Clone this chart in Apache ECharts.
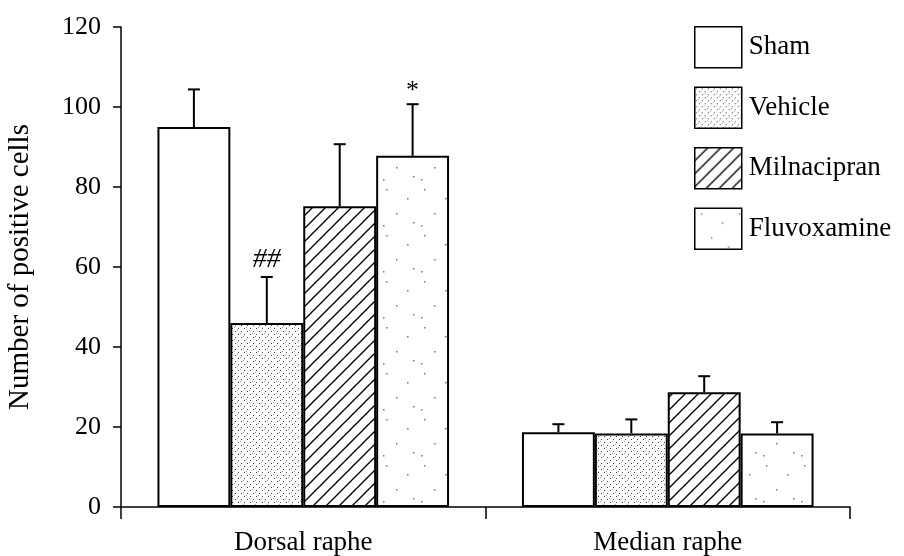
<!DOCTYPE html>
<html>
<head>
<meta charset="utf-8">
<script src="https://cdn.jsdelivr.net/npm/echarts@6/dist/echarts.min.js"></script>
<style>
  html, body { margin: 0; padding: 0; background: #fff; }
  #chart { width: 904px; height: 556px; }
</style>
</head>
<body>
<div id="chart"></div>
<script>
// Brain regions on the category axis
const categories = ['Dorsal raphe', 'Median raphe'];
const seriesNames = ['Sham', 'Vehicle', 'Milnacipran', 'Fluvoxamine'];

// Mean number of positive cells per group
const shamValues = [95, 18.7];
const vehicleValues = [46, 18.4];
const milnacipranValues = [75.2, 28.7];
const fluvoxamineValues = [87.8, 18.4];

// Upper error (SEM)
const shamErrors = [9.4, 2.0];
const vehicleErrors = [11.5, 3.5];
const milnacipranErrors = [15.5, 4.0];
const fluvoxamineErrors = [12.9, 2.8];

// Significance marks above the error bars
const shamMarks = ['', ''];
const vehicleMarks = ['##', ''];
const milnacipranMarks = ['', ''];
const fluvoxamineMarks = ['*', ''];

const yTicks = [0, 20, 40, 60, 80, 100, 120];

const FONT = "'Liberation Serif', 'DejaVu Serif', serif";

// ---- fill patterns drawn on small canvas tiles ----
function tile(w, h, draw) {
  const c = document.createElement('canvas');
  c.width = w; c.height = h;
  const ctx = c.getContext('2d');
  ctx.fillStyle = '#fff';
  ctx.fillRect(0, 0, w, h);
  draw(ctx);
  return { image: c, repeat: 'repeat' };
}

const whiteFill = '#ffffff';

// dense stipple
const stippleFill = tile(12, 12, ctx => {
  ctx.fillStyle = '#444';
  [[1, 1], [7, 1], [4, 4], [10, 4], [1, 7], [7, 7], [4, 10], [10, 10]].forEach(p => ctx.fillRect(p[0], p[1], 1, 1));
  ctx.fillStyle = '#999';
  [[3, 0], [9, 6], [0, 9], [6, 3]].forEach(p => ctx.fillRect(p[0], p[1], 1, 1));
});

// diagonal hatching "/"
const hatchFill = tile(13, 13, ctx => {
  ctx.strokeStyle = '#000';
  ctx.lineWidth = 1.3;
  for (const off of [-13, 0, 13]) {
    ctx.beginPath();
    ctx.moveTo(off - 1, 14);
    ctx.lineTo(off + 14, -1);
    ctx.stroke();
  }
});

// sparse dots
const sparseFill = tile(38, 46, ctx => {
  ctx.fillStyle = '#777';
  [[6, 5], [27, 14], [16, 29], [33, 38], [3, 41]].forEach(p => ctx.fillRect(p[0], p[1], 1.5, 1.5));
});

const groups = [
  { name: seriesNames[0], values: shamValues, errors: shamErrors, marks: shamMarks, fill: whiteFill },
  { name: seriesNames[1], values: vehicleValues, errors: vehicleErrors, marks: vehicleMarks, fill: stippleFill },
  { name: seriesNames[2], values: milnacipranValues, errors: milnacipranErrors, marks: milnacipranMarks, fill: hatchFill },
  { name: seriesNames[3], values: fluvoxamineValues, errors: fluvoxamineErrors, marks: fluvoxamineMarks, fill: sparseFill }
];

const BAR_FRACTION = 0.2; // bar width as share of category band

const barSeries = groups.map(g => ({
  name: g.name,
  type: 'bar',
  data: g.values,
  barWidth: (BAR_FRACTION * 100) + '%',
  barGap: '0%',
  itemStyle: { color: g.fill, borderColor: '#000', borderWidth: 2 },
  emphasis: { disabled: true },
  z: 2
}));

const errorSeries = groups.map((g, k) => ({
  name: g.name + ' error',
  type: 'custom',
  data: g.values.map((v, i) => [i, v, g.errors[i]]),
  z: 4,
  silent: true,
  renderItem: (params, api) => {
    const idx = api.value(0);
    const mean = api.value(1);
    const err = api.value(2);
    const band = api.size([1, 0])[0];
    const bw = band * BAR_FRACTION;
    const x = api.coord([idx, 0])[0] + (k - 1.5) * bw;
    const yTop = api.coord([idx, mean])[1];
    const yErr = api.coord([idx, mean + err])[1];
    const cap = 6;
    const style = { stroke: '#000', lineWidth: 2 };
    const children = [
      { type: 'line', shape: { x1: x, y1: yTop, x2: x, y2: yErr }, style },
      { type: 'line', shape: { x1: x - cap, y1: yErr, x2: x + cap, y2: yErr }, style }
    ];
    const mark = g.marks[params.dataIndex];
    if (mark) {
      children.push({
        type: 'text',
        style: {
          text: mark,
          x: x,
          y: yErr - (mark === '*' ? 0 : 3),
          align: 'center',
          verticalAlign: 'bottom',
          font: (mark === '*' ? '26px ' : 'italic 28px ') + FONT,
          fill: '#000'
        }
      });
    }
    return { type: 'group', children };
  }
}));

const chart = echarts.init(document.getElementById('chart'), null, { renderer: 'canvas' });

chart.setOption({
  animation: false,
  backgroundColor: '#fff',
  grid: { left: 121, right: 54, top: 27, bottom: 49, containLabel: false, outerBoundsMode: 'none' },
  legend: {
    orient: 'vertical',
    left: 689,
    top: 21,
    itemWidth: 47,
    itemHeight: 41,
    itemGap: 18,
    selectedMode: false,
    data: seriesNames.map(n => ({ name: n, icon: 'rect' })),
    itemStyle: { borderColor: '#000', borderWidth: 1.5 },
    textStyle: { fontFamily: FONT, fontSize: 27, color: '#000', padding: [0, 0, 0, 2] }
  },
  xAxis: {
    type: 'category',
    data: categories,
    axisLine: { lineStyle: { color: '#000', width: 1.5 } },
    axisTick: { show: true, length: 12, alignWithLabel: false, lineStyle: { color: '#000', width: 1.5 } },
    axisLabel: { fontFamily: FONT, fontSize: 27, color: '#000', margin: 22 },
    splitLine: { show: false }
  },
  yAxis: {
    type: 'value',
    min: yTicks[0],
    max: yTicks[yTicks.length - 1],
    interval: yTicks[1] - yTicks[0],
    name: 'Number of positive cells',
    nameLocation: 'middle',
    nameGap: 86,
    nameTextStyle: { fontFamily: FONT, fontSize: 29, color: '#000' },
    axisLine: { show: true, lineStyle: { color: '#000', width: 1.5 } },
    axisTick: { show: true, length: 8, lineStyle: { color: '#000', width: 1.5 } },
    axisLabel: { fontFamily: FONT, fontSize: 26, color: '#000', margin: 20 },
    splitLine: { show: false }
  },
  series: [...barSeries, ...errorSeries]
});
</script>
</body>
</html>
